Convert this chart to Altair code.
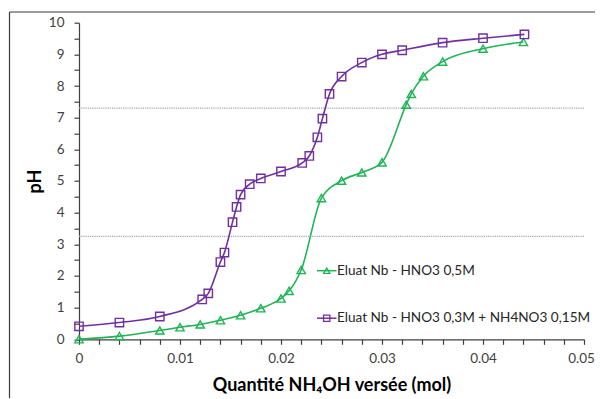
import altair as alt
import pandas as pd

# ---- data ----
series_names = ["Eluat Nb - HNO3 0,5M", "Eluat Nb - HNO3 0,3M + NH4NO3 0,15M"]

green_x = [0, 0.004, 0.008, 0.010, 0.012, 0.014, 0.016, 0.018, 0.020, 0.0208,
           0.022, 0.024, 0.026, 0.028, 0.030, 0.0324, 0.0329, 0.0341, 0.036,
           0.040, 0.044]
green_y = [0.0, 0.10, 0.28, 0.38, 0.47, 0.60, 0.76, 0.98, 1.29, 1.53,
           2.19, 4.46, 5.01, 5.27, 5.59, 7.41, 7.75, 8.31, 8.77,
           9.18, 9.39]

purple_x = [0, 0.004, 0.008, 0.0122, 0.0128, 0.0140, 0.0144, 0.0152, 0.0156,
            0.0160, 0.0169, 0.0180, 0.0200, 0.0221, 0.0228, 0.0236, 0.0241,
            0.0248, 0.0260, 0.0280, 0.0300, 0.0320, 0.0360, 0.0400, 0.0441]
purple_y = [0.41, 0.53, 0.72, 1.26, 1.45, 2.44, 2.74, 3.70, 4.18,
            4.57, 4.90, 5.08, 5.30, 5.57, 5.79, 6.38, 6.97,
            7.75, 8.30, 8.74, 9.00, 9.13, 9.37, 9.51, 9.63]

ref_levels = [7.3, 3.25]

x_ticks = [round(i * 0.002, 3) for i in range(26)]
y_ticks = [i * 0.5 for i in range(21)]

colors = ["#1fb455", "#7030a0"]
shapes = ["triangle-up", "square"]

FONT = "Lato"
AX = "#3f3f3f"

green_df = pd.DataFrame({"x": green_x, "y": green_y})
purple_df = pd.DataFrame({"x": purple_x, "y": purple_y})
ref_df = pd.DataFrame({"y": ref_levels})

x_scale = alt.Scale(domain=[0, 0.05], nice=False, zero=False)
y_scale = alt.Scale(domain=[0, 10], nice=False)

x_axis = alt.Axis(
    values=x_ticks,
    labelExpr="abs(datum.value*100 - round(datum.value*100)) < 1e-6 ? format(datum.value, '~g') : ''",
    title="Quantité NH₄OH versée (mol)",
    titleFont=FONT, titleFontSize=18, titleFontWeight="bold", titleColor="#000000",
    titleY=46, titleBaseline="middle",
    labelFont=FONT, labelFontSize=13.5, labelColor=AX, labelPadding=7,
    labelFlush=False, labelBound=False,
    labelOffset=alt.condition("datum.value >= 0.049", alt.value(-3), alt.value(0)),
    domainColor=AX, domainWidth=1.2, tickColor=AX, tickWidth=1.2, tickSize=5,
    grid=False, labelOverlap=False,
)
y_axis = alt.Axis(
    values=y_ticks,
    labelExpr="datum.value % 1 == 0 ? format(datum.value, 'd') : ''",
    title="pH",
    titleFont=FONT, titleFontSize=18, titleFontWeight="bold", titleColor="#000000",
    titleX=-43.5, titleAngle=-90, titleBaseline="middle", titleAlign="center",
    labelFont=FONT, labelFontSize=13.5, labelColor=AX, labelPadding=10,
    labelFlush=False, labelBound=False,
    domainColor=AX, domainWidth=1.2, tickColor=AX, tickWidth=1.2, tickSize=5,
    grid=False, labelOverlap=False,
)

base_enc = dict(
    x=alt.X("x:Q", scale=x_scale, axis=x_axis),
    y=alt.Y("y:Q", scale=y_scale, axis=y_axis),
)

layers = []

# dotted reference levels
layers.append(
    alt.Chart(ref_df).mark_rule(color="#a6a6a6", strokeWidth=1.3, strokeDash=[1.2, 1])
    .encode(y=alt.Y("y:Q", scale=y_scale, axis=y_axis))
)

for df, col, shp in [(green_df, colors[0], shapes[0]), (purple_df, colors[1], shapes[1])]:
    layers.append(
        alt.Chart(df).mark_line(color=col, strokeWidth=1.6, interpolate="monotone")
        .encode(**base_enc)
    )
    layers.append(
        alt.Chart(df).mark_point(color=col, shape=shp, size=70, strokeWidth=1.4,
                                 filled=False, opacity=1)
        .encode(**base_enc)
    )

# legend (inside plot)
leg_y = [248, 295.5]
for i, name in enumerate(series_names):
    layers.append(
        alt.Chart().mark_rule(color=colors[i], strokeWidth=1.5)
        .encode(x=alt.value(238), x2=alt.value(257.5), y=alt.value(leg_y[i]))
    )
    layers.append(
        alt.Chart().mark_point(color=colors[i], shape=shapes[i], size=40,
                               strokeWidth=1.3, filled=False, opacity=1)
        .encode(x=alt.value(247.7), y=alt.value(leg_y[i]))
    )
    layers.append(
        alt.Chart().mark_text(text=name, align="left", baseline="middle",
                              font=FONT, fontSize=13.6, color="#262626")
        .encode(x=alt.value(258), y=alt.value(leg_y[i]))
    )

# outer frame lines (left and top)
layers.append(
    alt.Chart().mark_rule(color="#3a3a3a", strokeWidth=1.2)
    .encode(x=alt.value(-69.5), y=alt.value(-10.7), y2=alt.value(400))
)
layers.append(
    alt.Chart().mark_rule(color="#3a3a3a", strokeWidth=1.2)
    .encode(x=alt.value(-69.5), x2=alt.value(540), y=alt.value(-10.7))
)

chart = alt.layer(*layers).properties(
    width=505, height=316.6,
    autosize=alt.AutoSizeParams(type="none"),
    padding={"left": 71, "top": 14.7, "right": 11, "bottom": 59},
    background="white",
).configure_view(stroke=None)

chart.save("out.html", embed_options={"renderer": "svg", "actions": False})
